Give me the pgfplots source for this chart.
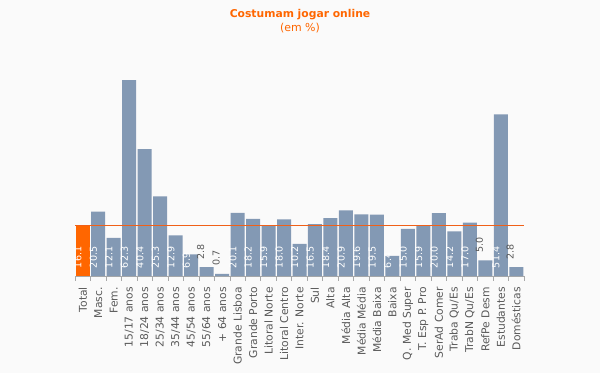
\documentclass[border=0pt]{standalone}
\usepackage{pgfplots}
\pgfplotsset{compat=1.18}
\usepackage{fontspec}
\setmainfont{DejaVu Sans}
\definecolor{barblue}{RGB}{131,153,180}
\definecolor{barorange}{RGB}{255,102,0}
\definecolor{lineorange}{RGB}{240,96,24}
\definecolor{bg}{RGB}{250,250,250}
\definecolor{txtgray}{RGB}{90,90,90}
\definecolor{axgray}{RGB}{168,168,168}
\begin{document}
\begin{tikzpicture}
\fill[bg] (0,0) rectangle (600bp,373bp);
\node[text=barorange, font=\fontsize{10.8}{12}\selectfont\bfseries] at (300bp,358bp) {Costumam jogar online};
\node[text=barorange, font=\fontsize{11}{12}\selectfont] at (300bp,345bp) {(em \%)};
\begin{axis}[
  at={(75bp,97bp)}, anchor=south west,
  scale only axis, width=449bp, height=220bp,
  xmin=-0.5, xmax=28.5, ymin=0, ymax=70,
  axis x line*=bottom, axis y line=none,
  x axis line style={axgray, line width=0.8pt, -},
  clip=false,
  ytick=\empty,
  xtick={0,...,28},
  xticklabels={Total,Masc.,Fem.,15/17 anos,18/24 anos,25/34 anos,35/44 anos,45/54 anos,55/64 anos,+ 64 anos,Grande Lisboa,Grande Porto,Litoral Norte,Litoral Centro,Inter. Norte,Sul,Alta,Média Alta,Média Média,Média Baixa,Baixa,Q. Med Super,T. Esp P. Pro,SerAd Comer,Traba Qu/Es,TrabN Qu/Es,RefPe Desm,Estudantes,Domésticas},
  xticklabel style={rotate=90, anchor=east, text=txtgray, inner sep=0pt, font=\fontsize{10.8}{12}\selectfont},
  major tick length=0pt,
  xticklabel shift=11bp,
  extra x ticks={-0.5,0.5,...,28.5},
  extra x tick labels={},
  extra x tick style={major tick length=5bp, tick align=outside, tick style={axgray, line width=0.6pt}},
]
% bars
\addplot[ybar, bar shift=0pt, bar width=14bp, fill=barorange, draw=none, forget plot] coordinates {(0,16.1)};
\addplot[ybar, bar shift=0pt, bar width=14bp, fill=barblue, draw=none, forget plot] coordinates {
(1,20.5) (2,12.1) (3,62.3) (4,40.4) (5,25.3) (6,12.9) (7,6.9) (8,2.8) (9,0.7)
(10,20.1) (11,18.2) (12,15.9) (13,18.0) (14,10.2) (15,16.5) (16,18.4) (17,20.9)
(18,19.6) (19,19.5) (20,6.4) (21,15.0) (22,15.9) (23,20.0) (24,14.2) (25,17.0)
(26,5.0) (27,51.4) (28,2.8)};
% reference line
\addplot[lineorange, line width=1.6bp, forget plot] coordinates {(-0.5,16.1) (28.5,16.1)};
% labels inside bars
\addplot[draw=none, mark=none, forget plot,
  point meta=explicit symbolic,
  nodes near coords,
  every node near coord/.style={rotate=90, anchor=west, text=white, inner sep=0pt, font=\fontsize{9.6}{12}\selectfont, shift={(0,4.8bp)}},
] coordinates {
(0,0) [16.1] (1,0) [20.5] (2,0) [12.1] (3,0) [62.3] (4,0) [40.4] (5,0) [25.3] (6,0) [12.9] (7,0) [6.9]
(10,0) [20.1] (11,0) [18.2] (12,0) [15.9] (13,0) [18.0] (14,0) [10.2] (15,0) [16.5] (16,0) [18.4] (17,0) [20.9]
(18,0) [19.6] (19,0) [19.5] (20,0) [6.4] (21,0) [15.0] (22,0) [15.9] (23,0) [20.0] (24,0) [14.2] (25,0) [17.0]
(27,0) [51.4]};
% labels above small bars
\addplot[draw=none, mark=none, forget plot,
  point meta=explicit symbolic,
  nodes near coords,
  every node near coord/.style={rotate=90, anchor=west, text=txtgray, inner sep=0pt, font=\fontsize{9.6}{12}\selectfont, shift={(0,6bp)}},
] coordinates {(8,2.8) [2.8] (9,0.7) [0.7] (26,5.0) [5.0] (28,2.8) [2.8]};
\end{axis}
\end{tikzpicture}
\end{document}
